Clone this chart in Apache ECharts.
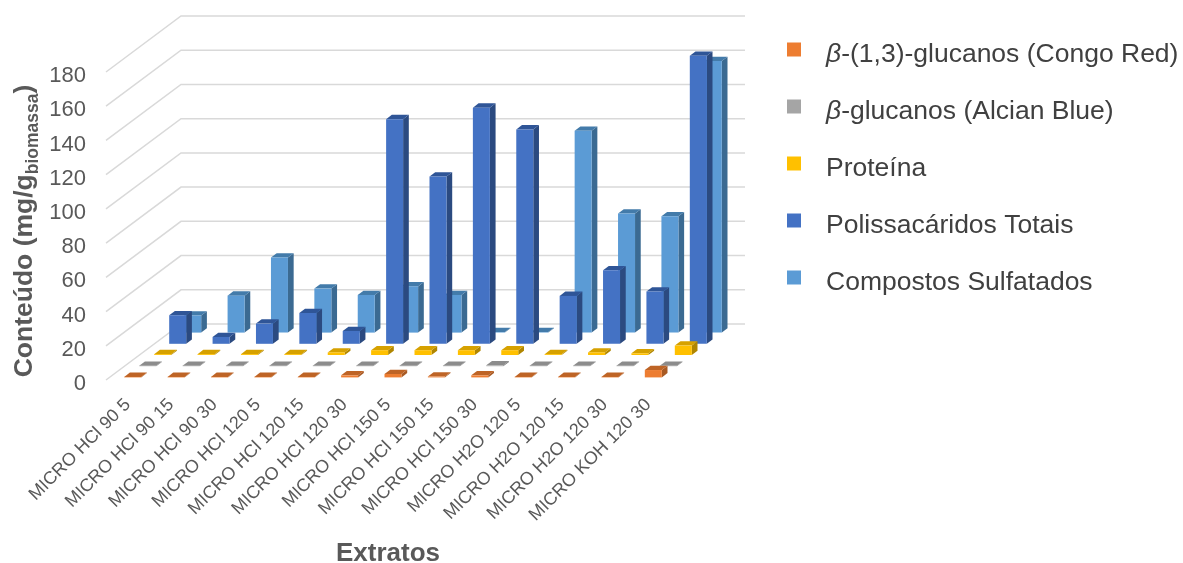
<!DOCTYPE html>
<html>
<head>
<meta charset="utf-8">
<style>html,body{margin:0;padding:0;background:#fff}#chart{width:1183px;height:563px}</style>
<script src="https://cdn.jsdelivr.net/npm/echarts@6/dist/echarts.min.js"></script>
</head>
<body>
<div id="chart"></div>
<script>
// Extract names along the horizontal axis
const categories = ['MICRO HCl 90 5','MICRO HCl 90 15','MICRO HCl 90 30','MICRO HCl 120 5','MICRO HCl 120 15','MICRO HCl 120 30','MICRO HCl 150 5','MICRO HCl 150 15','MICRO HCl 150 30','MICRO H2O 120 5','MICRO H2O 120 15','MICRO H2O 120 30','MICRO KOH 120 30'];
const congoRed = [0.3,0.3,0.3,0.3,0.3,1.2,2,0.5,1.2,0.3,0.3,0.3,4.3];
const alcianBlue = [0.3,0.3,0.3,0.3,0.3,0.3,0.3,0.3,0.5,0.3,0.3,0.3,0.3];
const proteina = [0.5,0.5,0.5,0.5,1.5,2.8,2.8,2.8,2.8,0.5,1.5,1,5.5];
const polissacaridos = [16.7,4,11.8,18,7.5,131.3,97.8,138,125.3,28,43,30.5,168.3];
const sulfatados = [10,21.6,43.9,25.7,22,27,22,0.3,0.3,118,69.6,68,158.7];
const valueTicks = [0,20,40,60,80,100,120,140,160,180];
const seriesNames = ['β-(1,3)-glucanos (Congo Red)','β-glucanos (Alcian Blue)','Proteína','Polissacáridos Totais','Compostos Sulfatados'];
const seriesValues = [congoRed, alcianBlue, proteina, polissacaridos, sulfatados];
const faceColors = [
  {front:'#ED7D31', side:'#A85A24', top:'#BE6426'},
  {front:'#A5A5A5', side:'#767676', top:'#8C8C8C'},
  {front:'#FFC000', side:'#B08600', top:'#D6A100'},
  {front:'#4472C4', side:'#2B4A80', top:'#2F5597'},
  {front:'#5B9BD5', side:'#3B6A92', top:'#437BAA'}
];

// Oblique projection of the floor: how far each series row moves back
const ROW_DX = 15, ROW_DY = 11.2;
const ROW_COUNT = seriesNames.length;
const BAR_W = 17, BAR_DX = 5.7, BAR_DY = 4.3, INSET_X = 5, INSET_Y = 2.6;

function wallItem(params, api) {
  const c = params.coordSys;
  const y = api.coord([0, api.value(1)])[1];
  return {
    type: 'polyline',
    shape: {points: [[c.x, y], [c.x + ROW_DX * ROW_COUNT, y - ROW_DY * ROW_COUNT], [c.x + c.width + ROW_DX * ROW_COUNT, y - ROW_DY * ROW_COUNT]]},
    style: {stroke: '#D9D9D9', lineWidth: 1.5, fill: null}
  };
}

function barItem(row) {
  const col = faceColors[row];
  return function (params, api) {
    const base = api.coord([api.value(0), 0]);
    const head = api.coord([api.value(0), api.value(1)]);
    const x0 = base[0] + row * ROW_DX + INSET_X - BAR_W / 2;
    const x1 = x0 + BAR_W;
    const yb = base[1] - row * ROW_DY - INSET_Y;
    const yt = head[1] - row * ROW_DY - INSET_Y;
    return {
      type: 'group',
      children: [
        {type:'polygon', shape:{points:[[x1,yb],[x1+BAR_DX,yb-BAR_DY],[x1+BAR_DX,yt-BAR_DY],[x1,yt]]}, style:{fill:col.side}},
        {type:'polygon', shape:{points:[[x0,yt],[x1,yt],[x1+BAR_DX,yt-BAR_DY],[x0+BAR_DX,yt-BAR_DY]]}, style:{fill:col.top}},
        {type:'rect', shape:{x:x0, y:yt, width:BAR_W, height:yb-yt}, style:{fill:col.front}}
      ]
    };
  };
}

const barSeries = seriesNames.map((name, row) => ({
  name,
  type: 'custom',
  z: 10 - row,
  renderItem: barItem(row),
  itemStyle: {color: faceColors[row].front},
  encode: {x: 0, y: 1},
  data: seriesValues[row].map((v, i) => [i, v])
}));

const chart = echarts.init(document.getElementById('chart'), null, {renderer: 'canvas'});
const FONT = '"Liberation Sans", Arial, sans-serif';
chart.setOption({
  animation: false,
  backgroundColor: '#fff',
  textStyle: {fontFamily: FONT},
  grid: {left: 106, top: 72, width: 564, height: 308, outerBoundsMode: 'none'},
  legend: {
    orient: 'vertical', left: 787, top: 41, padding: 0,
    itemWidth: 14, itemHeight: 14, itemGap: 30,
    icon: 'rect',
    data: seriesNames,
    formatter: n => n.startsWith('β') ? '{i|β}{r|' + n.slice(1) + '}' : '{r|' + n + '}',
    textStyle: {
      padding: [10,0,0,20],
      rich: {
        i: {fontFamily: FONT, fontStyle: 'italic', fontSize: 26.5, color: '#404040'},
        r: {fontFamily: FONT, fontSize: 26.5, color: '#404040'}
      }
    }
  },
  xAxis: {
    type: 'category',
    data: categories,
    name: 'Extratos',
    nameLocation: 'middle',
    nameGap: 161,
    nameTextStyle: {fontFamily: FONT, fontWeight: 'bold', fontSize: 26, color: '#595959'},
    axisLine: {show: false},
    axisTick: {show: false},
    axisLabel: {interval: 0, rotate: 45, margin: 22, fontFamily: FONT, fontSize: 18, color: '#595959', hideOverlap: false}
  },
  yAxis: {
    type: 'value', min: 0, max: 180, interval: 20,
    name: '{a|Conteúdo (mg/g}{s|biomassa}{a|)}',
    nameLocation: 'middle',
    nameRotate: 90,
    nameGap: 64,
    nameTextStyle: {
      padding: [0,10,0,0],
      rich: {
        a: {fontFamily: FONT, fontWeight: 'bold', fontSize: 26.5, color: '#595959'},
        s: {fontFamily: FONT, fontWeight: 'bold', fontSize: 17.5, color: '#595959', padding: [16,0,0,0]}
      }
    },
    axisLine: {show: false},
    axisTick: {show: false},
    splitLine: {show: false},
    axisLabel: {
      margin: 20,
      formatter: '{v|{value}}',
      rich: {v: {fontFamily: FONT, fontSize: 22, color: '#595959', padding: [8,0,0,0]}}
    }
  },
  series: [{
    type: 'custom',
    z: 1,
    silent: true,
    renderItem: wallItem,
    encode: {x: 0, y: 1},
    data: valueTicks.map(t => [0, t])
  }].concat(barSeries)
});
</script>
</body>
</html>
